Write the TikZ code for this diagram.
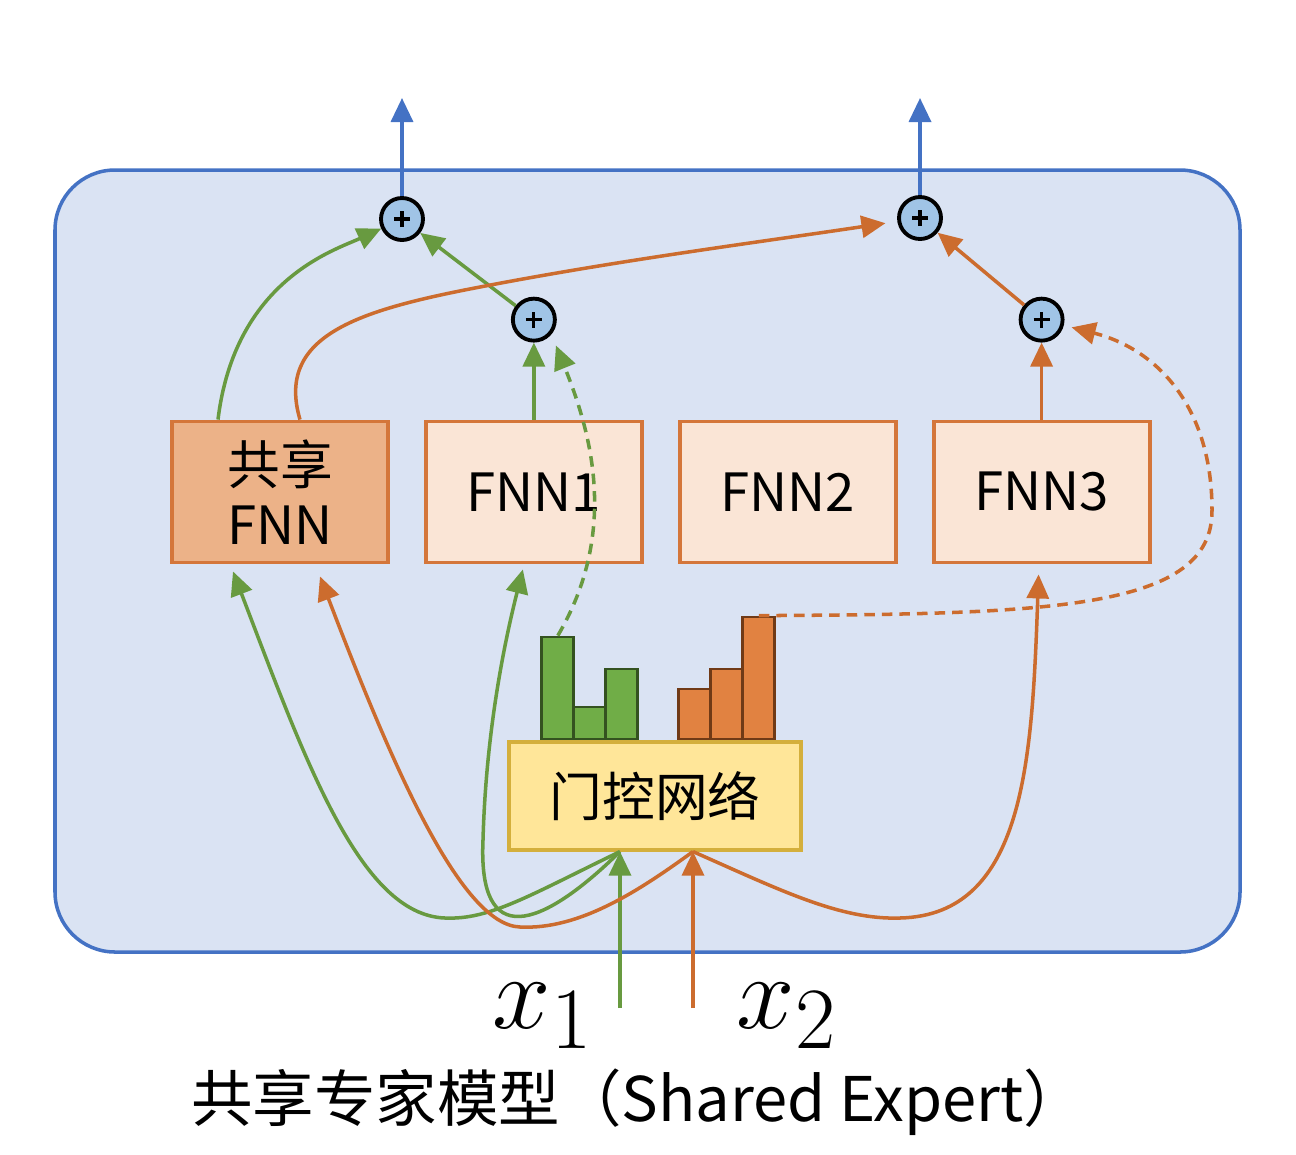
\documentclass[tikz,border=0pt]{standalone}
\usepackage{fontspec}
\newfontfamily\cjkfont{Noto Sans CJK SC}
\usepackage{xcolor}
\usepackage{tikz}
\usetikzlibrary{arrows.meta, positioning, calc}

\definecolor{panelfill}{RGB}{218,227,243}
\definecolor{paneldraw}{RGB}{68,114,196}
\definecolor{linegreen}{RGB}{104,154,64}
\definecolor{lineorange}{RGB}{204,108,46}
\definecolor{sharedfill}{RGB}{236,178,136}
\definecolor{expertfill}{RGB}{250,229,214}
\definecolor{expertdraw}{RGB}{212,118,58}
\definecolor{gatefill}{RGB}{255,230,153}
\definecolor{gatedraw}{RGB}{212,175,60}
\definecolor{plusfill}{RGB}{160,196,230}
\definecolor{bargreen}{RGB}{112,173,71}
\definecolor{bargreendraw}{RGB}{52,82,32}
\definecolor{barorange}{RGB}{225,130,65}
\definecolor{barorangedraw}{RGB}{112,58,22}

\begin{document}
\begin{tikzpicture}[
        panel/.style={draw=paneldraw, fill=panelfill, line width=1pt, rounded corners=0.6cm},
        expertbox/.style={
            rectangle,
            draw=expertdraw,
            fill=expertfill,
            line width=1.1pt,
            minimum width=2.16cm,
            minimum height=1.41cm,
            align=center,
            font=\cjkfont\fontsize{15}{17}\selectfont
        },
        sharedbox/.style={expertbox, fill=sharedfill},
        gatebox/.style={expertbox, draw=gatedraw, fill=gatefill, line width=0.9pt, minimum width=2.92cm, minimum height=1.08cm},
        greenbar/.style={rectangle, draw=bargreendraw, fill=bargreen, line width=0.8pt, minimum width=0.32cm, inner sep=0pt},
        orangebar/.style={greenbar, draw=barorangedraw, fill=barorange},
        plusnode/.style={
            circle, draw=black, fill=plusfill, line width=1.1pt, minimum size=0.42cm, inner sep=0pt,
            path picture={
                \draw[line width=0.9pt] ([xshift=-0.08cm]path picture bounding box.center) -- ([xshift=0.08cm]path picture bounding box.center)
                    ([yshift=-0.08cm]path picture bounding box.center) -- ([yshift=0.08cm]path picture bounding box.center);
            }
        },
        flow/.style={line width=1pt, -{Triangle[length=0.24cm, width=0.22cm]}},
        greenflow/.style={flow, draw=linegreen},
        orangeflow/.style={flow, draw=lineorange},
        blueflow/.style={flow, draw=paneldraw},
        dashflow/.style={dash pattern=on 3pt off 2pt},
        inputlabel/.style={scale=1.2, font=\fontsize{24.88}{30}\selectfont, anchor=base}
    ]
        \useasboundingbox (0,0) rectangle (12.96,-11.54);
        \draw[panel] (0.55,-1.70) rectangle (12.40,-9.52);

        \node[sharedbox] (shared) at (2.80,-4.92) {共享\\FNN};
        \node[expertbox, right=0.34cm of shared] (fnn1) {FNN1};
        \node[expertbox, right=0.34cm of fnn1] (fnn2) {FNN2};
        \node[expertbox, right=0.34cm of fnn2] (fnn3) {FNN3};

        \node[gatebox] (gate) at (6.55,-7.96) {门控网络};
        \foreach \i/\h in {1/1.02, 2/0.32, 3/0.70}
            \node[greenbar, minimum height=\h cm, anchor=south west] (g\i) at ($(gate.north west)+(0.33+0.32*\i-0.32,0)$) {};
        \foreach \i/\h in {1/0.50, 2/0.70, 3/1.22}
            \node[orangebar, minimum height=\h cm, anchor=south west] (o\i) at ($(gate.north west)+(1.70+0.32*\i-0.32,0)$) {};

        \node[plusnode] (s1) at (4.02,-2.19) {};
        \node[plusnode] (s2) at (9.20,-2.18) {};
        \node[plusnode, above=0.77cm of fnn1] (m1) {};
        \node[plusnode, above=0.77cm of fnn3] (m3) {};

        \coordinate (out1) at (4.02,-0.98);
        \coordinate (out2) at (9.20,-0.98);
        \draw[blueflow] (s1) -- (out1);
        \draw[blueflow] (s2) -- (out2);

        \coordinate (in1) at (6.20,-10.08);
        \coordinate (in2) at (6.93,-10.08);
        \coordinate (j1) at (in1 |- gate.south);
        \coordinate (j2) at (in2 |- gate.south);
        \draw[greenflow] (in1) -- (j1);
        \draw[orangeflow] (in2) -- (j2);

        \draw[greenflow] ([xshift=-0.62cm]shared.north) .. controls (2.35,-2.8) and (3.35,-2.5) .. (s1);
        \draw[greenflow] (m1) -- (s1);
        \draw[greenflow] (fnn1.north) -- (m1);
        \draw[greenflow, dashflow, shorten >=0.12cm] (g1.north) .. controls (6.2,-5.3) and (5.9,-4.3) .. (m1.-40);

        \draw[orangeflow, shorten >=0.12cm] ([xshift=0.20cm]shared.north) .. controls (2.75,-3.35) and (3.6,-3.1) .. (4.8,-2.87)
            .. controls (6.2,-2.6) and (7.6,-2.42) .. (s2);
        \draw[orangeflow] (m3) -- (s2);
        \draw[orangeflow] (fnn3.north) -- (m3);
        \draw[orangeflow, dashflow, shorten >=0.08cm] (o3.north) .. controls (10.5,-6.14) and (12.13,-6.1) .. (12.12,-5.1)
            .. controls (12.12,-4.1) and (11.6,-3.5) .. (m3);

        \draw[greenflow] (j1) .. controls (5.30,-8.95) and (4.90,-9.20) .. (4.45,-9.18)
            .. controls (3.60,-9.15) and (3.05,-7.60) .. ([xshift=-0.47cm, yshift=-0.07cm]shared.south);
        \draw[greenflow] (j1) .. controls (5.40,-9.30) and (4.78,-9.50) .. (4.83,-8.40)
            .. controls (4.86,-7.30) and (5.05,-6.40) .. ([xshift=-0.11cm, yshift=-0.05cm]fnn1.south);
        \draw[orangeflow] (j2) .. controls (6.40,-8.90) and (5.80,-9.30) .. (5.20,-9.27)
            .. controls (4.60,-9.25) and (3.90,-7.60) .. ([xshift=0.40cm, yshift=-0.12cm]shared.south);
        \draw[orangeflow] (j2) .. controls (7.80,-8.90) and (8.40,-9.20) .. (9.00,-9.18)
            .. controls (10.25,-9.15) and (10.32,-7.60) .. ([xshift=-0.03cm, yshift=-0.10cm]fnn3.south);

        \node[inputlabel] (x1) at (5.43,-10.28) {$x_1$};
        \node[inputlabel] (x2) at (7.87,-10.28) {$x_2$};
        \node[font=\cjkfont\fontsize{17.5}{20}\selectfont] (caption) at (6.38,-11.02) {共享专家模型（Shared Expert）};
    \end{tikzpicture}
\end{document}
